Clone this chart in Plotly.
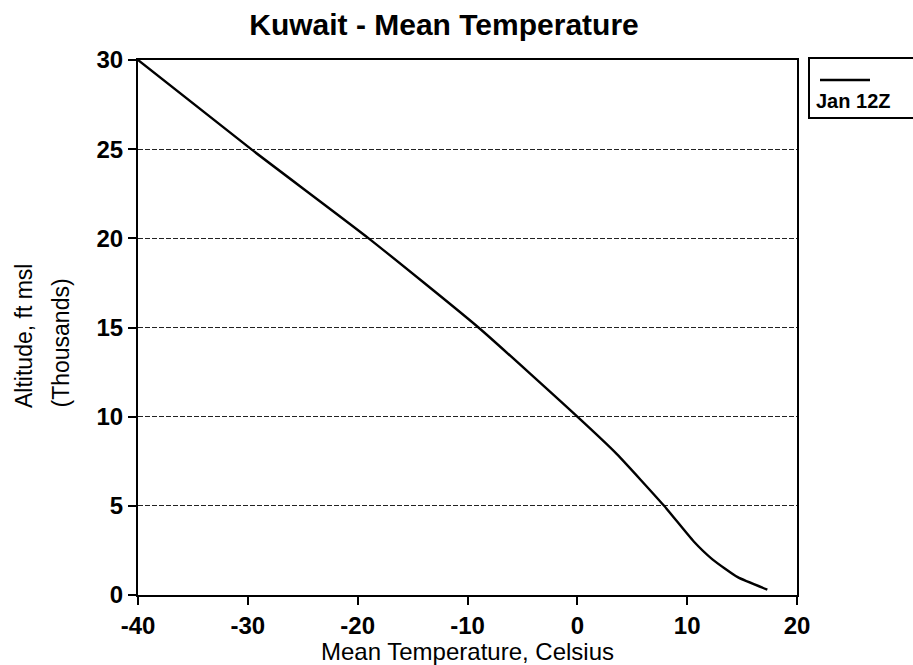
import plotly.graph_objects as go

# Mean temperature profile, Kuwait, January 12Z
temperature_c = [-40, -29.7, -19, -9, 0, 3.6, 7.9, 10.6, 12.3, 14.6, 17.3]
altitude_kft = [30, 25, 20, 15, 10, 7.9, 5, 3, 2, 1, 0.3]

x_ticks = [-40, -30, -20, -10, 0, 10, 20]
x_ticktext = ["-40", "-30", "-20", "-10", "0", "10", "20"]
y_ticks = [0, 5, 10, 15, 20, 25, 30]
series_name = "Jan 12Z"

FONT = "Liberation Sans"
L, R, T, B = 138, 116, 60, 70
PW, PH = 913 - L - R, 665 - T - B


def px_x(px):
    return (px - L) / PW


def px_y(py):
    return 1 - (py - T) / PH


fig = go.Figure()
fig.add_trace(go.Scatter(
    x=temperature_c, y=altitude_kft, mode="lines",
    line=dict(color="black", width=2.4, shape="spline", smoothing=0.5),
    name=series_name, showlegend=False,
))

fig.update_layout(
    width=913, height=665,
    margin=dict(l=L, r=R, t=T, b=B),
    paper_bgcolor="white", plot_bgcolor="white",
    title=dict(text="Kuwait - Mean Temperature", x=px_x(444), xref="paper", xanchor="center",
               y=1 - 24 / 665, yref="container", yanchor="middle",
               font=dict(family=FONT, size=30, color="black", weight="bold")),
    font=dict(family=FONT, color="black"),
)

fig.update_xaxes(
    range=[-40, 20], tickvals=x_ticks, ticktext=x_ticktext, automargin=False,
    ticks="outside", ticklen=8, tickwidth=1.5,
    tickcolor="black", showline=True, linecolor="black", linewidth=2, mirror=True,
    showgrid=False, zeroline=False,
    tickfont=dict(family=FONT, size=24, weight="bold"),
    title=dict(text="Mean Temperature, Celsius", standoff=6,
               font=dict(family=FONT, size=24)),
)
fig.update_yaxes(
    range=[0, 30], tickvals=y_ticks, automargin=False,
    ticks="outside", ticklen=8, tickwidth=1.5,
    tickcolor="black", showline=True, linecolor="black", linewidth=2, mirror=True,
    showgrid=True, gridcolor="#222", gridwidth=1, griddash="5px,2px",
    zeroline=False,
    tickfont=dict(family=FONT, size=24, weight="bold"),
)

# Two-line vertical axis title, both lines starting from the same baseline end
fig.add_annotation(text="Altitude, ft msl", xref="paper", yref="paper",
                   x=px_x(24), y=px_y(410), xanchor="center", yanchor="bottom",
                   textangle=-90, showarrow=False,
                   font=dict(family=FONT, size=23, color="black"))
fig.add_annotation(text="(Thousands)", xref="paper", yref="paper",
                   x=px_x(60), y=px_y(410), xanchor="center", yanchor="bottom",
                   textangle=-90, showarrow=False,
                   font=dict(family=FONT, size=23, color="black"))

# Legend box at the top right, sample line above the series label
fig.add_shape(type="rect", xref="paper", yref="paper",
              x0=px_x(809), x1=px_x(930), y0=px_y(118), y1=px_y(58),
              line=dict(color="black", width=2), fillcolor="white")
fig.add_shape(type="line", xref="paper", yref="paper",
              x0=px_x(820), x1=px_x(870), y0=px_y(80), y1=px_y(80),
              line=dict(color="black", width=2.4))
fig.add_annotation(text=series_name, xref="paper", yref="paper",
                   x=px_x(814), y=px_y(101), xanchor="left", yanchor="middle",
                   showarrow=False,
                   font=dict(family=FONT, size=20, weight="bold", color="black"))

fig.write_html("out.html")
